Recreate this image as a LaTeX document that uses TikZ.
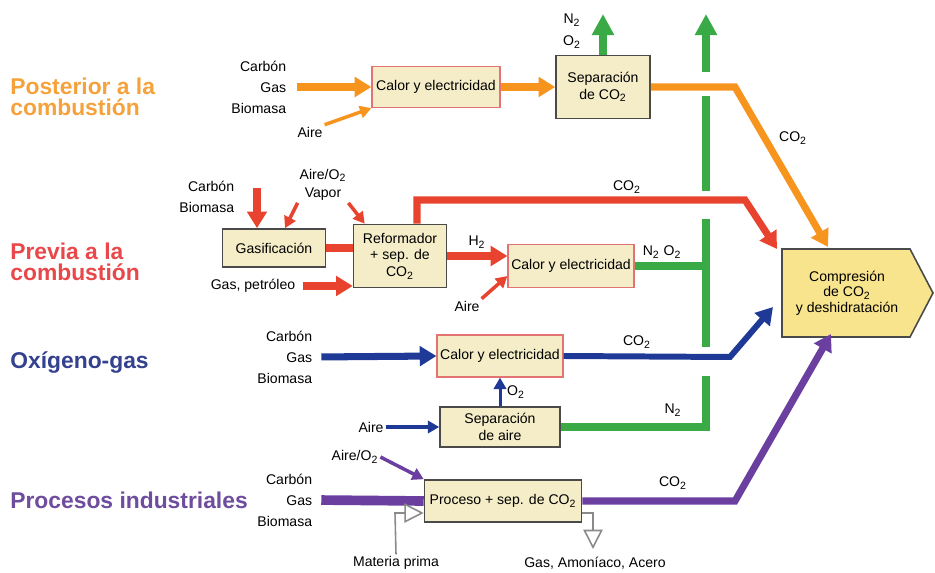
\documentclass[tikz,border=0pt]{standalone}
\usepackage{fontspec}
\setmainfont{Liberation Sans}
\usetikzlibrary{arrows.meta,calc}
\definecolor{naranja}{HTML}{F7941E}
\definecolor{rojo}{HTML}{E8432E}
\definecolor{azul}{HTML}{1F3A96}
\definecolor{morado}{HTML}{6A3FA0}
\definecolor{verde}{HTML}{3AAA47}
\definecolor{tnaranja}{HTML}{F5A23C}
\definecolor{trojo}{HTML}{E8484A}
\definecolor{tazul}{HTML}{34418F}
\definecolor{tmorado}{HTML}{6E4C9E}
\definecolor{fondocaja}{HTML}{F4EDC8}
\definecolor{fondocomp}{HTML}{F8E48C}
\definecolor{bordecaja}{HTML}{4A4A4A}
\definecolor{bordecalor}{HTML}{E27373}
\definecolor{grisflecha}{HTML}{8A8A8A}
\tikzset{
  caja/.style={draw=bordecaja, fill=fondocaja, line width=0.9pt, align=center,
    inner sep=1pt, font=\fontsize{8}{9.5}\selectfont},
  cajacalor/.style={caja, draw=bordecalor, line width=0.7pt},
  entrada/.style={anchor=east, align=right, inner sep=2pt, font=\fontsize{8}{11.9}\selectfont},
  etiq/.style={inner sep=1pt, font=\fontsize{8}{11.9}\selectfont},
  titulo/.style={anchor=west, align=left, inner sep=0pt, font=\fontsize{13}{11.8}\selectfont\bfseries},
  flecha/.style={line width=4pt, -{Triangle[length=9.5pt,width=11pt]}},
  fina/.style={line width=2pt, -{Triangle[length=6.5pt,width=7pt]}},
  linea/.style={line width=4pt},
  gris/.style={draw=grisflecha, line width=0.9pt, -{Triangle[open,length=11pt,width=11pt]}},
}
\begin{document}
\begin{tikzpicture}[x=0.02cm, y=-0.02cm,
    comp/.style={align=center, inner sep=1pt, font=\fontsize{8}{8.8}\selectfont}]
    \useasboundingbox (0,0) rectangle (935,573);

    % titulos
    \node[titulo, text=tnaranja] (tpost) at (10,97) {Posterior a la\\combustión};
    \node[titulo, text=trojo] (tprev) at (10,262) {Previa a la\\combustión};
    \node[titulo, text=tazul] (toxi) at (10,363) {Oxígeno-gas};
    \node[titulo, text=tmorado] (tproc) at (10,500) {Procesos industriales};

    % posterior a la combustion
    \node[entrada] (in1) at (290,87) {Carbón\\Gas\\Biomasa};
    \node[etiq] (aire1) at (310,132) {Aire};
    \node[cajacalor, minimum width=2.56cm, minimum height=0.82cm] (calor1) at (436,87) {Calor y electricidad};
    \node[caja, minimum width=1.88cm, minimum height=1.26cm] (sep1) at (603,87) {Separación\\de CO\textsubscript{2}};
    \node[etiq] (n2a) at (572,20) {N\textsubscript{2}};
    \node[etiq] (o2a) at (572,42) {O\textsubscript{2}};
    \node[etiq] (co2a) at (793,138) {CO\textsubscript{2}};

    % previa a la combustion
    \node[entrada] (in2) at (238,197) {Carbón\\Biomasa};
    \node[etiq, align=center, font=\fontsize{8}{10.5}\selectfont] (vapor) at (323,185) {Aire/O\textsubscript{2}\\Vapor};
    \node[caja, minimum width=2.06cm, minimum height=0.76cm] (gasif) at (274,248) {Gasificación};
    \node[caja, minimum width=1.86cm, minimum height=1.26cm] (reform) at (400,256) {Reformador\\+ sep. de\\CO\textsubscript{2}};
    \node[etiq] (gaspet) at (253,286) {Gas, petróleo};
    \node[cajacalor, minimum width=2.52cm, minimum height=0.86cm] (calor2) at (571,266) {Calor y electricidad};
    \node[etiq] (h2) at (477,242) {H\textsubscript{2}};
    \node[etiq] (aire2) at (467,306) {Aire};
    \node[etiq] (n2o2) at (662,252) {N\textsubscript{2} O\textsubscript{2}};
    \node[etiq] (co2b) at (627,187) {CO\textsubscript{2}};

    % compresion
    \filldraw[draw=bordecaja, fill=fondocomp, line width=0.9pt]
      (782,249) -- (910,249) -- (933,293) -- (910,337) -- (782,337) -- cycle;
    \node[comp] (comp) at (847,293) {Compresión\\de CO\textsubscript{2}\\y deshidratación};

    % oxigeno-gas
    \node[entrada] (in3) at (316,357) {Carbón\\Gas\\Biomasa};
    \node[cajacalor, minimum width=2.52cm, minimum height=0.84cm] (calor3) at (500,356) {Calor y electricidad};
    \node[caja, minimum width=2.4cm, minimum height=0.8cm] (sepaire) at (500,427) {Separación\\de aire};
    \node[etiq] (aire3) at (371,427) {Aire};
    \node[etiq] (o2b) at (516,392) {O\textsubscript{2}};
    \node[etiq] (co2c) at (637,342) {CO\textsubscript{2}};
    \node[etiq] (n2b) at (673,410) {N\textsubscript{2}};

    % procesos industriales
    \node[entrada] (in4) at (316,500) {Carbón\\Gas\\Biomasa};
    \node[etiq] (aire4) at (355,457) {Aire/O\textsubscript{2}};
    \node[caja, minimum width=3.14cm, minimum height=0.84cm] (proc) at (503,501) {Proceso + sep. de CO\textsubscript{2}};
    \node[etiq] (mprima) at (396,563) {Materia prima};
    \node[etiq] (salida) at (595,563) {Gas, Amoníaco, Acero};
    \node[etiq] (co2d) at (673,483) {CO\textsubscript{2}};

    % puntos de quiebre
    \coordinate (o1) at (735,87);
    \coordinate (oFin) at (828,247);
    \coordinate (c2) at (257,188);
    \coordinate (r0) at (417,200);
    \coordinate (r1) at (745,200);
    \coordinate (rFin) at (777,249);
    \coordinate (b1) at (730,357);
    \coordinate (bFin) at (773,307);
    \coordinate (p1) at (735,501);
    \coordinate (pFin) at (831,334);
    \coordinate (m1) at (395,513);
    \coordinate (s1) at (593,513);
    \coordinate (s2) at (593,549);
    \coordinate (n2top) at (603,14);
    \coordinate (g0) at (706,427);
    \coordinate (g1) at (706,376);
    \coordinate (g2) at (706,347);
    \coordinate (g3) at (706,219);
    \coordinate (g4) at (706,191);
    \coordinate (g5) at (706,96);
    \coordinate (g6) at (706,72);
    \coordinate (gTop) at (706,14);

    % verde
    \draw[linea, verde, line width=5pt] (sepaire.east) -- (g0) -- (g1);
    \draw[linea, verde, line width=5pt] (g2) -- (g3);
    \draw[linea, verde, line width=5pt] (g4) -- (g5);
    \draw[verde, line width=5pt, -{Triangle[length=12pt,width=12pt]}] (g6) -- (gTop);
    \draw[linea, verde] (calor2.east) -- (calor2.east -| g0);
    \draw[verde, line width=5pt, -{Triangle[length=12pt,width=12pt]}] (sep1.north) -- (n2top);

    % naranja
    \draw[flecha, naranja, shorten <=4pt] (in1.east) -- (calor1.west);
    \draw[fina, naranja] (aire1.north east) -- (calor1.south west);
    \draw[flecha, naranja] (calor1.east) -- (sep1.west);
    \draw[flecha, naranja] (sep1.east) -- (o1) -- (oFin);

    % rojo
    \draw[flecha, rojo] (c2) -- (gasif.north -| c2);
    \draw[fina, rojo] (vapor.south west) -- ($(gasif.north)+(11,0)$);
    \draw[fina, rojo] (vapor.south east) -- ($(reform.north west)+(12,0)$);
    \draw[linea, rojo, line width=5pt] (gasif.east) -- (gasif.east -| reform.west);
    \draw[flecha, rojo, shorten <=3pt] (gaspet.east) -- (gaspet.east -| reform.west);
    \draw[flecha, rojo] (reform.north -| r0) -- (r0) -- (r1) -- (rFin);
    \draw[flecha, rojo] (reform.east) -- (reform.east -| calor2.west);
    \draw[fina, rojo] (aire2.north east) -- ($(calor2.west)+(0,10)$);

    % azul
    \draw[flecha, azul, shorten <=3pt] (in3.east) -- (calor3.west);
    \draw[flecha, azul, line width=3.4pt] (calor3.east) -- (b1) -- (bFin);
    \draw[fina, azul, line width=1.7pt] (sepaire.north) -- (calor3.south);
    \draw[fina, azul] (aire3.east) -- (sepaire.west);

    % morado
    \draw[linea, morado, line width=5.5pt, shorten <=3pt] (in4.east) -- (proc.west);
    \draw[fina, morado] (aire4.east) -- (proc.north west);
    \draw[flecha, morado] (proc.east) -- (p1) -- (pFin);
    \draw[gris] (mprima.north) -- (m1) -- (proc.west |- m1);
    \draw[gris] (proc.east |- s1) -- (s1) -- (s2);
\end{tikzpicture}
\end{document}
